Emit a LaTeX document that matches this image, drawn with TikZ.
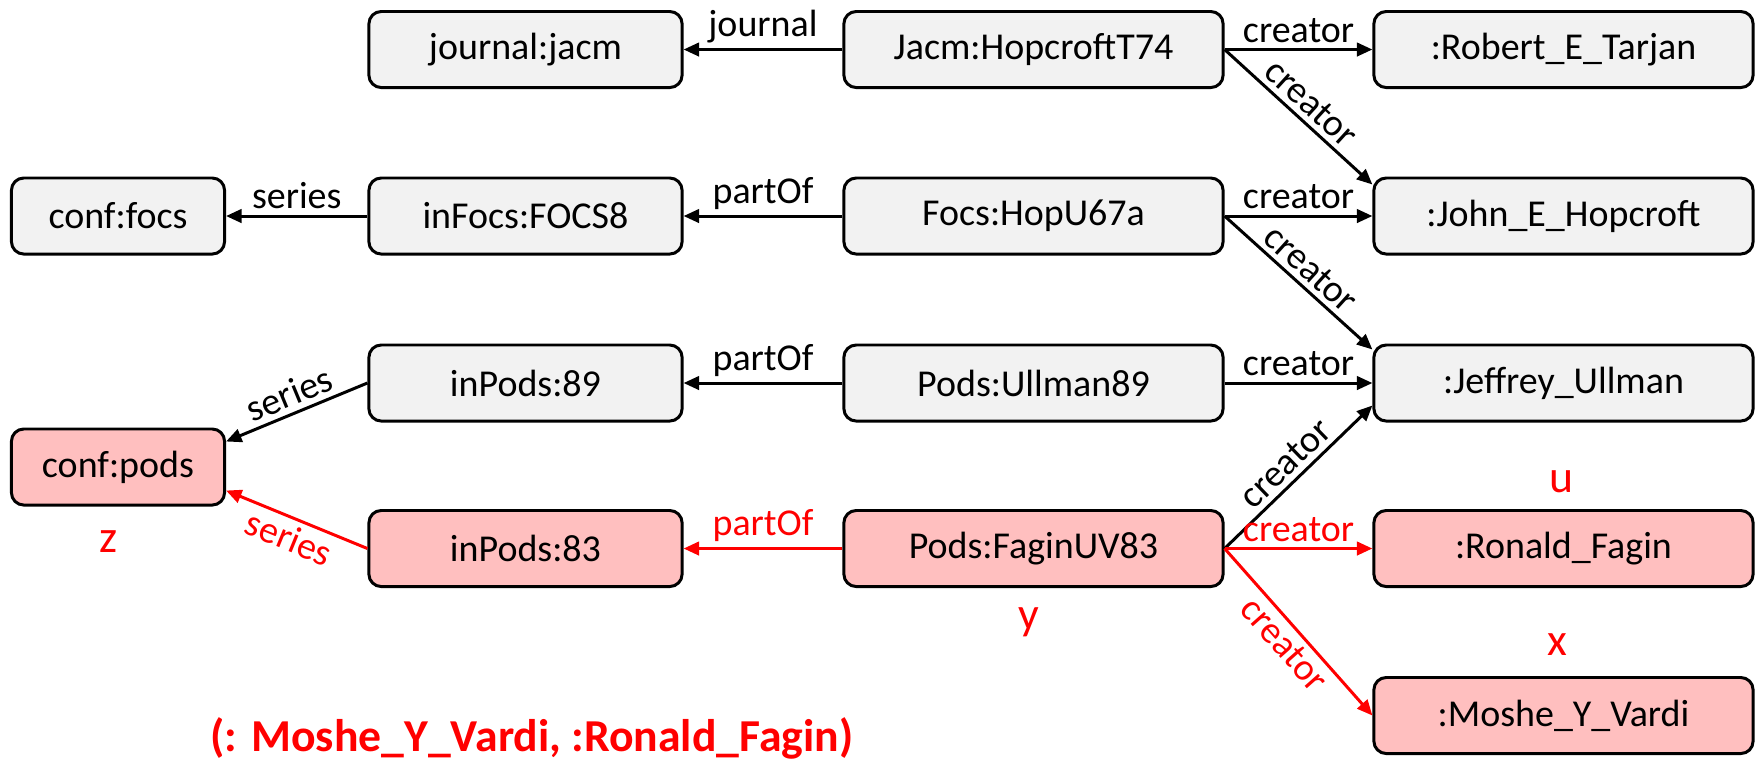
\documentclass[tikz,border=0pt]{standalone}
\usepackage{fontspec}
\setmainfont{Carlito}
\usetikzlibrary{arrows.meta}
\definecolor{rdfgray}{RGB}{242,242,242}
\definecolor{rdfpink}{RGB}{255,191,191}
\definecolor{rdfred}{RGB}{255,0,0}
\begin{document}
\begin{tikzpicture}[
    x=0.01cm, y=-0.01cm,
    >={Triangle[length=4.4pt,width=3.8pt]},
    R/.style={draw=black, fill=rdfgray, line width=0.85pt, rounded corners=3.5pt,
      minimum height=0.76cm, inner sep=0pt, font=\fontsize{10.8}{12}\selectfont},
    H/.style={R, fill=rdfpink},
    cA/.style={minimum width=2.13cm},
    cB/.style={minimum width=3.13cm},
    cC/.style={minimum width=3.79cm},
    rel/.style={->, line width=0.85pt},
    hrel/.style={rel, draw=rdfred},
    lab/.style={font=\fontsize{10.8}{12}\selectfont, inner sep=1.5pt},
    var/.style={text=rdfred, font=\fontsize{13}{15}\selectfont},
  ]
  \useasboundingbox (0,0) rectangle (1760,759);

  % resources
  \node[R, cB] (jacm)     at (525.5,49.5)  {journal:jacm};
  \node[R, cC] (hop74)    at (1033.5,49.5) {Jacm:HopcroftT74};
  \node[R, cC] (tarjan)   at (1563.5,49.5) {:Robert\_E\_Tarjan};
  \node[R, cA] (focs)     at (118,216)     {conf:focs};
  \node[R, cB] (infocs)   at (525.5,216)   {inFocs:FOCS8};
  \node[R, cC] (hop67)    at (1033.5,216)  {Focs:HopU67a};
  \node[R, cC] (hopcroft) at (1563.5,216)  {:John\_E\_Hopcroft};
  \node[R, cB] (inpods89) at (525.5,383)   {inPods:89};
  \node[R, cC] (ullman89) at (1033.5,383)  {Pods:Ullman89};
  \node[R, cC] (ullman)   at (1563.5,383)  {:Jeffrey\_Ullman};
  \node[H, cA] (pods)     at (118,467)     {conf:pods};
  \node[H, cB] (inpods83) at (525.5,548.5) {inPods:83};
  \node[H, cC] (fagin83)  at (1033.5,548.5){Pods:FaginUV83};
  \node[H, cC] (fagin)    at (1563.5,548.5){:Ronald\_Fagin};
  \node[H, cC] (vardi)    at (1563.5,715.5){:Moshe\_Y\_Vardi};

  % black edges
  \draw[rel] (hop74) -- (jacm) node[lab, midway, above] {journal};
  \draw[rel] (hop74) -- (tarjan) node[lab, midway, above] {creator};
  \draw[rel] (hop74.east) -- ([yshift=-0.08cm]hopcroft.north west)
    node[lab, midway, above, sloped] {creator};
  \draw[rel] (infocs) -- (focs) node[lab, midway, above] {series};
  \draw[rel] (hop67) -- (infocs) node[lab, midway, above] {partOf};
  \draw[rel] (hop67) -- (hopcroft) node[lab, midway, above] {creator};
  \draw[rel] (hop67.east) -- ([yshift=-0.06cm]ullman.north west)
    node[lab, midway, above, sloped] {creator};
  \draw[rel] (ullman89) -- (inpods89) node[lab, midway, above] {partOf};
  \draw[rel] (ullman89) -- (ullman) node[lab, midway, above] {creator};
  \draw[rel] (inpods89.west) -- ([yshift=-0.14cm]pods.north east)
    node[lab, midway, above, sloped] {series};
  \draw[rel] (fagin83.east) -- ([yshift=0.17cm]ullman.south west)
    node[lab, midway, above, sloped] {creator};

  % red edges (the answer)
  \draw[hrel] (inpods83.west) -- ([yshift=0.16cm]pods.south east)
    node[lab, midway, below, sloped, text=rdfred] {series};
  \draw[hrel] (fagin83) -- (inpods83) node[lab, midway, above, text=rdfred] {partOf};
  \draw[hrel] (fagin83) -- (fagin) node[lab, midway, above, text=rdfred] {creator};
  \draw[hrel] (fagin83.east) -- (vardi.west)
    node[lab, midway, below, sloped, text=rdfred] {creator};

  % variables
  \node[var] (tz) at (109,542)  {z};
  \node[var] (ty) at (1029,622) {y};
  \node[var] (tu) at (1561,482) {u};
  \node[var] (tx) at (1557,645) {x};

  \node[text=rdfred, font=\fontsize{13}{15}\selectfont\bfseries] (ans) at (532,738)
    {(: Moshe\_Y\_Vardi, :Ronald\_Fagin)};

\end{tikzpicture}
\end{document}
